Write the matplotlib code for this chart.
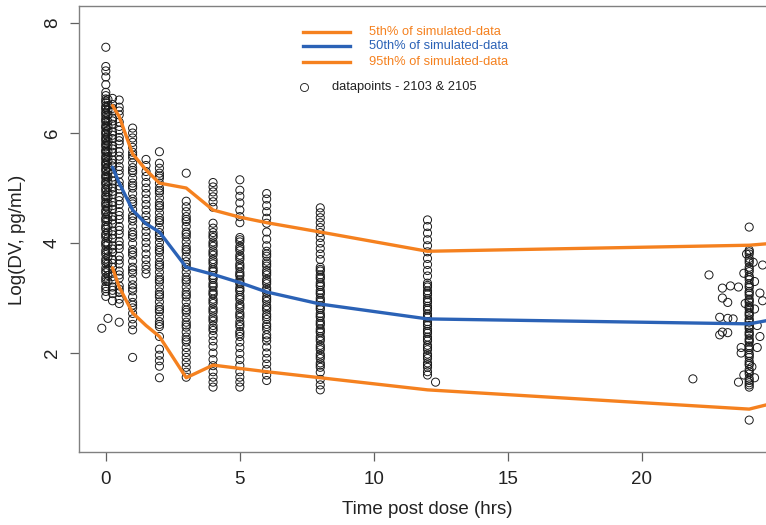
import matplotlib
matplotlib.use('Agg')
import matplotlib.pyplot as plt
from matplotlib.lines import Line2D

plt.rcParams['font.family'] = ['Liberation Sans', 'DejaVu Sans']

# ---------------- data ----------------
obs_times = [0, 0.08, 0.25, 0.5, 1, 1.5, 2, 3, 4, 5, 6, 8, 12, 24]

dv_t0 = [7.56, 7.21, 7.13, 7.02, 6.88, 6.74, 6.68, 6.62, 6.55, 6.49, 6.43, 6.38, 6.31, 6.26, 6.2,
         6.14, 6.09, 6.03, 5.97, 5.92, 5.86, 5.81, 5.75, 5.69, 5.64, 5.58, 5.52, 5.47, 5.41, 5.36,
         5.3, 5.24, 5.18, 5.12, 5.06, 5.0, 4.93, 4.87, 4.8, 4.74, 4.67, 4.6, 4.53, 4.46, 4.39, 4.32,
         4.25, 4.17, 4.1, 4.02, 3.95, 3.87, 3.79, 3.71, 3.63, 3.55, 3.46, 3.38, 3.3, 3.21, 3.12, 3.03,
         6.58, 6.46, 6.35, 6.23, 6.11, 6.0, 5.89, 5.78, 5.67, 5.55, 5.44, 5.33, 5.21, 5.09, 4.97,
         4.84, 4.71, 4.57, 4.43, 4.28, 4.14, 3.99, 3.83, 3.67, 3.5, 3.34, 3.17]
dv_t008 = [6.61, 6.5, 6.42, 6.33, 6.21, 6.12, 6.05, 5.93, 5.85, 5.78, 5.66, 5.57, 5.49, 5.38, 5.29,
           5.2, 5.11, 5.02, 4.91, 4.83, 4.72, 4.63, 4.51, 4.42, 4.31, 4.2, 4.09, 3.98, 3.86, 3.75,
           3.63, 3.52, 3.41, 3.3, 2.63]
dv_t025 = [6.63, 6.52, 6.4, 6.27, 6.16, 6.02, 5.9, 5.77, 5.65, 5.51, 5.4, 5.27, 5.13, 5.0, 4.88,
           4.74, 4.61, 4.48, 4.35, 4.22, 4.08, 3.95, 3.83, 3.7, 3.56, 3.45, 3.33, 3.2, 3.08, 2.95,
           6.45, 6.22, 5.96, 5.71, 5.45, 5.2, 4.94, 4.68, 4.42, 4.15, 3.89, 3.63, 3.39, 3.14]
dv_t05 = [6.6, 6.47, 6.33, 6.2, 6.05, 5.92, 5.8, 5.66, 5.51, 5.39, 5.25, 5.11, 4.98, 4.84, 4.7,
          4.57, 4.43, 4.3, 4.16, 4.03, 3.9, 3.76, 3.62, 3.49, 3.36, 3.22, 3.1, 2.98, 2.9, 2.56,
          6.4, 6.12, 5.86, 5.58, 5.32, 5.04, 4.77, 4.5, 4.23, 3.96, 3.69, 3.42, 3.16]
dv_t1 = [6.09, 6.0, 5.91, 5.83, 5.74, 5.65, 5.55, 5.46, 5.37, 5.28, 5.18, 5.09, 5.0, 4.9, 4.8,
         4.71, 4.61, 4.5, 4.4, 4.3, 4.2, 4.1, 3.99, 3.88, 3.78, 3.67, 3.56, 3.45, 3.34, 3.24, 3.13,
         3.02, 2.92, 2.82, 2.72, 2.62, 2.52, 2.42, 1.92,
         5.6, 5.32, 5.04, 4.75, 4.45, 4.15, 3.83, 3.51, 3.18, 2.87]
dv_t15 = [5.52, 5.41, 5.3, 5.21, 5.1, 5.0, 4.9, 4.8, 4.7, 4.6, 4.5, 4.41, 4.31, 4.21, 4.11, 4.01,
          3.91, 3.8, 3.7, 3.6, 3.52, 3.44]
dv_t2 = [5.66, 5.45, 5.36, 5.27, 5.18, 5.09, 5.0, 4.91, 4.82, 4.73, 4.64, 4.55, 4.46, 4.37, 4.28,
         4.19, 4.1, 4.01, 3.92, 3.83, 3.74, 3.65, 3.56, 3.47, 3.38, 3.29, 3.2, 3.11, 3.02, 2.93,
         2.84, 2.75, 2.66, 2.57, 2.48, 2.3, 2.07, 1.96, 1.86, 1.76, 1.55,
         5.22, 4.95, 4.68, 4.41, 4.14, 3.87, 3.6, 3.33, 3.06, 2.79, 2.52]
dv_t3 = [5.27, 4.76, 4.66, 4.57, 4.48, 4.39, 4.3, 4.2, 4.11, 4.02, 3.93, 3.84, 3.75, 3.66, 3.56,
         3.47, 3.38, 3.29, 3.2, 3.11, 3.02, 2.93, 2.83, 2.74, 2.65, 2.56, 2.47, 2.38, 2.29, 2.2,
         2.1, 2.01, 1.92, 1.83, 1.74, 1.65, 1.56,
         4.43, 4.16, 3.88, 3.61, 3.33, 3.06, 2.78, 2.51, 2.24]
dv_t4 = [5.1, 5.02, 4.93, 4.84, 4.75, 4.65, 4.36, 4.27, 4.19, 4.1, 4.02, 3.94, 3.86, 3.78, 3.7,
         3.62, 3.55, 3.48, 3.41, 3.34, 3.27, 3.2, 3.13, 3.06, 2.98, 2.9, 2.82, 2.74, 2.66, 2.58,
         2.5, 2.41, 2.32, 2.22, 2.12, 2.0, 1.88, 1.77, 1.66, 1.56, 1.47, 1.38,
         4.14, 3.98, 3.82, 3.66, 3.51, 3.37, 3.23, 3.09, 2.94, 2.78, 2.62, 2.45]
dv_t5 = [5.15, 4.96, 4.85, 4.73, 4.6, 4.48, 4.37, 4.1, 4.02, 3.94, 3.86, 3.78, 3.7, 3.62, 3.54,
         3.47, 3.4, 3.33, 3.26, 3.19, 3.12, 3.05, 2.97, 2.89, 2.81, 2.73, 2.65, 2.57, 2.48, 2.39,
         2.3, 2.2, 2.1, 1.99, 1.88, 1.77, 1.66, 1.56, 1.47, 1.38,
         4.06, 3.9, 3.74, 3.58, 3.43, 3.29, 3.15, 3.01, 2.85, 2.69, 2.52, 2.35]
dv_t6 = [4.9, 4.8, 4.68, 4.57, 4.45, 4.36, 4.2, 4.07, 3.95, 3.85, 3.76, 3.67, 3.58, 3.5, 3.42,
         3.34, 3.26, 3.18, 3.1, 3.02, 2.94, 2.86, 2.78, 2.7, 2.61, 2.52, 2.43, 2.33, 2.22, 2.11,
         2.0, 1.9, 1.8, 1.7, 1.6, 1.5,
         3.8, 3.62, 3.46, 3.3, 3.14, 2.98, 2.82, 2.66, 2.48, 2.28]
dv_t8 = [4.64, 4.55, 4.46, 4.37, 4.28, 4.19, 4.1, 4.0, 3.9, 3.8, 3.7, 3.56, 3.49, 3.42, 3.35,
         3.28, 3.21, 3.14, 3.07, 3.0, 2.93, 2.86, 2.79, 2.72, 2.65, 2.58, 2.51, 2.44, 2.37, 2.3,
         2.22, 2.14, 2.06, 1.98, 1.9, 1.82, 1.74, 1.65, 1.52, 1.42, 1.33,
         3.52, 3.38, 3.24, 3.1, 2.96, 2.82, 2.68, 2.54, 2.4, 2.26, 2.1, 1.94, 1.78]
dv_t12 = [4.42, 4.3, 4.18, 4.06, 3.95, 3.84, 3.72, 3.61, 3.5, 3.4, 3.27, 3.2, 3.13, 3.06, 2.99,
          2.92, 2.85, 2.78, 2.71, 2.64, 2.57, 2.5, 2.43, 2.36, 2.29, 2.22, 2.14, 2.06, 1.98, 1.9,
          1.82, 1.74, 1.66, 1.6,
          3.23, 3.09, 2.95, 2.81, 2.67, 2.53, 2.39, 2.25, 2.1, 1.94, 1.78]
dv_t24 = [4.29, 3.87, 3.8, 3.72, 3.64, 3.56, 3.48, 3.4, 3.33, 3.26, 3.19, 3.12, 3.05, 2.98, 2.92,
          2.86, 2.8, 2.74, 2.68, 2.62, 2.56, 2.5, 2.44, 2.38, 2.32, 2.26, 2.2, 2.13, 2.06, 1.99,
          1.92, 1.85, 1.78, 1.7, 1.62, 1.54, 1.46, 1.38, 0.78,
          3.84, 3.68, 3.52, 3.37, 3.22, 3.09, 2.95, 2.83, 2.71, 2.59, 2.47, 2.35, 2.23, 2.1, 1.96,
          1.81, 1.66, 1.5, 1.42]
obs_values = [dv_t0, dv_t008, dv_t025, dv_t05, dv_t1, dv_t15, dv_t2, dv_t3, dv_t4, dv_t5,
              dv_t6, dv_t8, dv_t12, dv_t24]

# scattered (off-nominal) observations
extra_time = [-0.15, 12.3, 21.9, 22.5, 23.0, 23.3, 23.6, 23.0, 23.2, 22.9, 23.2, 23.4, 23.0,
              22.9, 23.2, 24.4, 24.5, 24.3, 23.7, 23.7, 23.6, 23.8, 24.2, 24.3, 24.4, 23.8,
              23.9, 24.2, 24.1, 24.5, 24.2, 23.85, 24.15]
extra_dv = [2.45, 1.47, 1.53, 3.42, 3.18, 3.22, 3.2, 3.0, 2.92, 2.65, 2.63, 2.62, 2.38, 2.33,
            2.37, 3.09, 2.95, 2.1, 2.1, 2.0, 1.47, 1.6, 2.8, 2.5, 2.3, 3.45, 3.8, 3.3, 1.75, 3.6,
            1.55, 2.9, 3.65]

# simulated percentiles
sim_time = [0.25, 0.5, 1, 1.5, 2, 3, 4, 5, 6, 8, 12, 24, 25]
p5 = [3.55, 3.2, 2.73, 2.5, 2.3, 1.55, 1.78, 1.72, 1.66, 1.55, 1.33, 0.98, 1.1]
p50 = [5.38, 5.09, 4.6, 4.35, 4.2, 3.56, 3.43, 3.28, 3.11, 2.89, 2.62, 2.53, 2.62]
p95 = [6.5, 6.3, 5.62, 5.33, 5.09, 5.0, 4.6, 4.47, 4.37, 4.2, 3.85, 3.96, 4.0]

legend_labels = ['5th% of simulated-data', '50th% of simulated-data',
                 '95th% of simulated-data', 'datapoints - 2103 & 2105']

# ---------------- style ----------------
ORANGE = '#F5811F'
BLUE = '#2B62B6'
W, H = 766, 525

fig = plt.figure(figsize=(W / 100, H / 100), dpi=100)
ax = fig.add_axes([79 / W, (H - 452) / H, 697 / W, 446 / H])

pt_kw = dict(s=34, facecolors='none', edgecolors='#1a1a1a', linewidths=0.7, zorder=2)
for t, vals in zip(obs_times, obs_values):
    ax.scatter([t] * len(vals), vals, **pt_kw)
ax.scatter(extra_time, extra_dv, **pt_kw)

ax.plot(sim_time, p5, color=ORANGE, lw=2.4, zorder=3, solid_capstyle='round')
ax.plot(sim_time, p50, color=BLUE, lw=2.4, zorder=3, solid_capstyle='round')
ax.plot(sim_time, p95, color=ORANGE, lw=2.4, zorder=3, solid_capstyle='round')

ax.set_xlim(-1, 25)
ax.set_ylim(0.2, 8.31)
ax.set_xticks([0, 5, 10, 15, 20])
ax.set_yticks([2, 4, 6, 8])
for sp in ax.spines.values():
    sp.set_color('#808080')
    sp.set_linewidth(1.0)
ax.tick_params(axis='both', length=6.5, width=0.9, color='#606060',
               labelsize=13.5, labelcolor='#222222')
ax.tick_params(axis='x', pad=7)
ax.tick_params(axis='y', pad=6.5)
for lab in ax.get_yticklabels():
    lab.set_rotation(90)
    lab.set_va('center')

ax.set_xlabel('Time post dose (hrs)', fontsize=13.5, color='#222222')
ax.xaxis.set_label_coords(0.5, (452 - 510) / 446)
ax.xaxis.label.set_va('center')
ax.set_ylabel('Log(DV, pg/mL)', fontsize=13.5, color='#222222')
ax.yaxis.set_label_coords((18 - 79) / 697, (452 - 240) / 446)
ax.yaxis.label.set_va('center')

# ---------------- legend (manual, R-style) ----------------
def fx(px):
    return px / W

def fy(py):
    return 1 - py / H

rows = [(32, ORANGE), (46, BLUE), (62, ORANGE)]
for (py, col), lab in zip(rows, legend_labels[:3]):
    fig.add_artist(Line2D([fx(303), fx(350)], [fy(py), fy(py)], color=col, lw=2.4,
                          transform=fig.transFigure))
    fig.text(fx(369), fy(py), lab, color=col, fontsize=9.3, va='center', ha='left')
fig.add_artist(Line2D([fx(304)], [fy(87)], marker='o', markersize=5.8, markerfacecolor='none',
                      markeredgecolor='#222222', markeredgewidth=0.65, linestyle='none',
                      transform=fig.transFigure))
fig.text(fx(332), fy(87), legend_labels[3], color='#222222', fontsize=9.3, va='center', ha='left')

fig.savefig('out.png', dpi=100)
